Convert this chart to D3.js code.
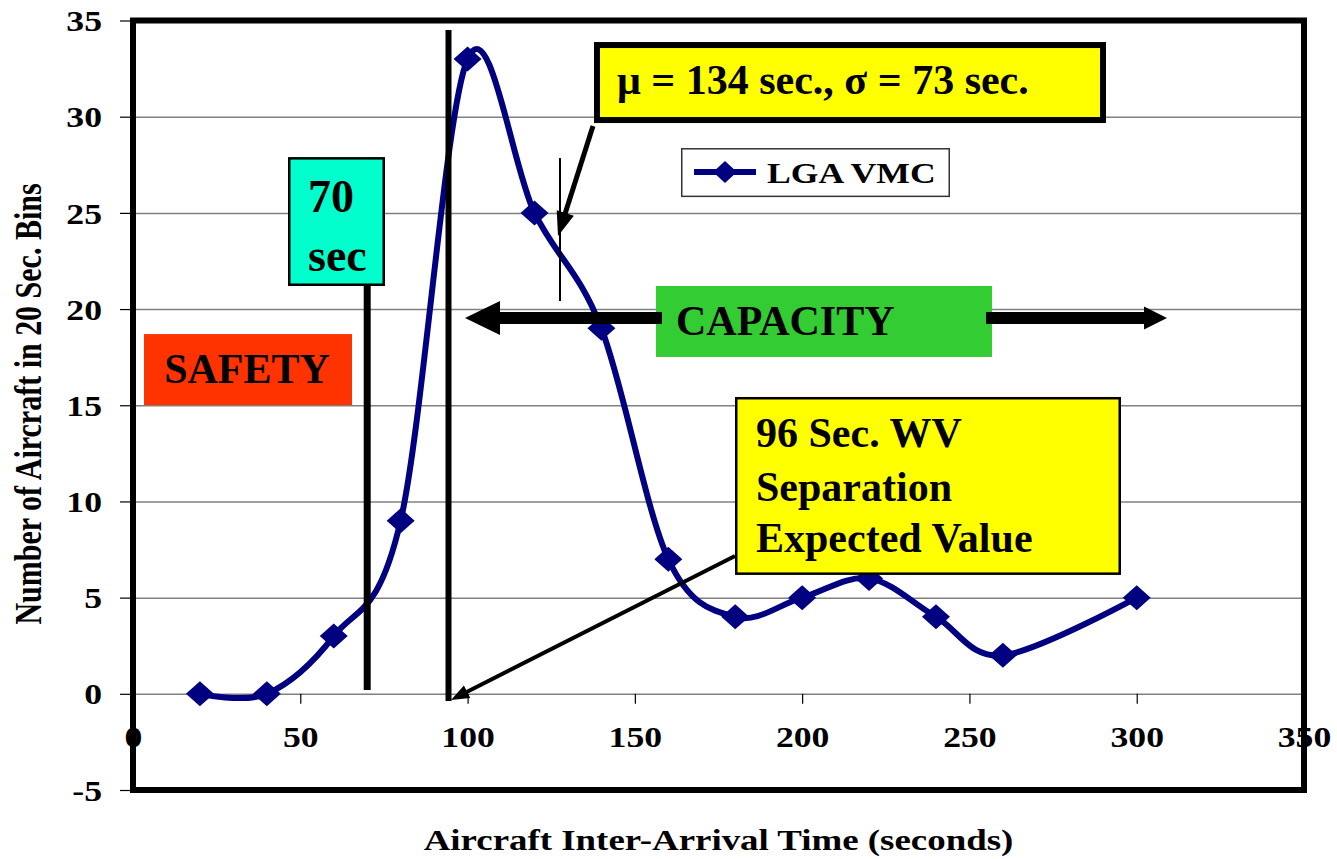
<!DOCTYPE html>
<html>
<head>
<meta charset="utf-8">
<script src="https://cdn.jsdelivr.net/npm/d3@7"></script>
<style>
  body { margin: 0; background: #fff; }
  text { font-family: "Liberation Serif", "Times New Roman", serif; font-weight: bold; }
</style>
</head>
<body>
<script>
// values
var binTimes = [20, 40, 60, 80, 100, 120, 140, 160, 180, 200, 220, 240, 260, 300];
var aircraftCounts = [0, 0, 3, 9, 33, 25, 19, 7, 4, 5, 6, 4, 2, 5];
var seriesName = "LGA VMC";
var xTicks = [0, 50, 100, 150, 200, 250, 300, 350];
var yTicks = [-5, 0, 5, 10, 15, 20, 25, 30, 35];

var svgWidth = 1337;
var svgHeight = 859;
// excel text in the picture is a bit wide
var stretch = 1.23;

var svg = d3.select("body")
  .append("svg")
  .attr("width", svgWidth)
  .attr("height", svgHeight);

var x = d3.scaleLinear().domain([0, 350]).range([133, 1304]);
var y = d3.scaleLinear().domain([-5, 35]).range([790, 20.5]);

// gridlines
svg.append("g")
  .attr("transform", `translate(${x(0)},0)`)
  .call(d3.axisLeft(y).tickValues(yTicks).tickSize(-(x(350) - x(0))).tickFormat(""))
  .call(g => g.select(".domain").remove())
  .selectAll("line")
  .attr("stroke", "#808080")
  .attr("stroke-width", 1.5);

// y axis
var yAxis = svg.append("g")
  .attr("transform", `translate(${x(0)},0)`)
  .call(d3.axisLeft(y).tickValues(yTicks).tickSize(13).tickFormat(d => String(d)));
yAxis.select(".domain").remove();
yAxis.selectAll("line").attr("stroke", "#000").attr("stroke-width", 1.2);
yAxis.selectAll("text")
  .attr("x", -31 / stretch)
  .attr("dy", "0.35em")
  .attr("transform", `scale(${stretch},1)`)
  .attr("font-size", 29)
  .attr("fill", "#000");

// x axis sits on y = 0
var xAxis = svg.append("g")
  .attr("transform", `translate(0,${y(0)})`)
  .call(d3.axisBottom(x).tickValues(xTicks).tickSize(10).tickFormat(d => String(d)));
xAxis.select(".domain").remove();
xAxis.selectAll("line").attr("stroke", "#000").attr("stroke-width", 1.2);
xAxis.selectAll("text")
  .attr("y", 53)
  .attr("dy", 0)
  .attr("transform", `scale(${stretch},1)`)
  .attr("font-size", 29)
  .attr("fill", "#000");

// plot frame
svg.append("rect")
  .attr("x", x(0))
  .attr("y", y(35))
  .attr("width", x(350) - x(0))
  .attr("height", y(-5) - y(35))
  .attr("fill", "none")
  .attr("stroke", "#000")
  .attr("stroke-width", 6);

// axis titles
svg.append("text")
  .attr("transform", `translate(28,404) rotate(-90) scale(1,${stretch})`)
  .attr("text-anchor", "middle")
  .attr("dy", "0.35em")
  .attr("font-size", 30)
  .text("Number of Aircraft in 20 Sec. Bins");

svg.append("text")
  .attr("transform", `translate(${(x(0) + x(350)) / 2},850) scale(${stretch},1)`)
  .attr("text-anchor", "middle")
  .attr("font-size", 30)
  .text("Aircraft Inter-Arrival Time (seconds)");

// helpers for the call-outs (positions given in chart units)
function box(x0, x1, yTop, yBot, fill, sw) {
  sw = sw || 0;
  return svg.append("rect")
    .attr("x", x(x0) + sw / 2)
    .attr("y", y(yTop) + sw / 2)
    .attr("width", x(x1) - x(x0) - sw)
    .attr("height", y(yBot) - y(yTop) - sw)
    .attr("fill", fill)
    .attr("stroke", sw ? "#000" : "none")
    .attr("stroke-width", sw);
}

function label(xv, yv, size, str) {
  return svg.append("text")
    .attr("x", x(xv))
    .attr("y", y(yv))
    .attr("font-size", size)
    .text(str);
}

function vline(xv, y0, y1, w) {
  svg.append("line")
    .attr("x1", x(xv)).attr("x2", x(xv))
    .attr("y1", y(y0)).attr("y2", y(y1))
    .attr("stroke", "#000")
    .attr("stroke-width", w);
}

function arrow(x1, y1, x2, y2, w, headLen, headHalf) {
  var px1 = x(x1), py1 = y(y1), px2 = x(x2), py2 = y(y2);
  var dx = px2 - px1, dy = py2 - py1;
  var len = Math.hypot(dx, dy);
  var ux = dx / len, uy = dy / len;
  var bx = px2 - ux * headLen, by = py2 - uy * headLen;
  svg.append("line")
    .attr("x1", px1).attr("y1", py1)
    .attr("x2", bx + ux).attr("y2", by + uy)
    .attr("stroke", "#000")
    .attr("stroke-width", w);
  svg.append("path")
    .attr("d", `M${px2},${py2}L${bx - uy * headHalf},${by + ux * headHalf}L${bx + uy * headHalf},${by - ux * headHalf}Z`)
    .attr("fill", "#000");
}

// the series
var points = binTimes.map((t, i) => ({t: t, n: aircraftCounts[i]}));

var line = d3.line()
  .x(d => x(d.t))
  .y(d => y(d.n))
  .curve(d3.curveCardinal.tension(0));

svg.append("path")
  .datum(points)
  .attr("d", line)
  .attr("fill", "none")
  .attr("stroke", "#000080")
  .attr("stroke-width", 6);

var diamond = "M0,-12.5L14,0L0,12.5L-14,0Z";
svg.selectAll(".marker")
  .data(points)
  .enter()
  .append("path")
  .attr("class", "marker")
  .attr("d", diamond)
  .attr("transform", d => `translate(${x(d.t)},${y(d.n)})`)
  .attr("fill", "#000080");

// vertical markers
vline(70, 21.2, 0.2, 7);
vline(94.3, 34.51, -0.37, 6);
vline(127.62, 27.85, 20.42, 2);

// SAFETY
box(3.29, 65.46, 18.70, 15.01, "#FF3300");
label(34.07, 16.16, 42, "SAFETY").attr("text-anchor", "middle");

// 70 sec
box(46.33, 75.32, 27.90, 21.20, "#00FFCC", 2.5);
label(52.31, 25.05, 46, "70");
label(52.31, 21.98, 46, "sec");

// CAPACITY
box(156.32, 256.75, 21.20, 17.51, "#33CC33");
label(162.3, 18.65, 42, "CAPACITY");
arrow(158.11, 19.54, 99.23, 19.54, 12, 35, 17);
arrow(254.95, 19.54, 309.05, 19.54, 12, 23, 11.5);

// mean / sd
arrow(137.49, 29.52, 127.03, 23.80, 5, 24, 9);
box(137.79, 290.82, 33.88, 29.67, "#FFFF00", 6);
label(144.66, 31.18, 42, "\u03bc = 134 sec., \u03c3 = 73 sec.");

// legend
box(163.79, 244.19, 28.37, 25.82, "#fff", 1.5).attr("stroke", "#333");
svg.append("line")
  .attr("x1", x(167.68)).attr("x2", x(186.21))
  .attr("y1", y(27.12)).attr("y2", y(27.12))
  .attr("stroke", "#000080")
  .attr("stroke-width", 6);
svg.append("path")
  .attr("d", "M0,-11L12,0L0,11L-12,0Z")
  .attr("transform", `translate(${x(176.94)},${y(27.12)})`)
  .attr("fill", "#000080");
svg.append("text")
  .attr("transform", `translate(${x(189.5)},${y(26.55)}) scale(${stretch},1)`)
  .attr("font-size", 29)
  .text(seriesName);

// 96 sec expected value
arrow(179.93, 7.16, 95.05, -0.32, 4, 18, 7);
box(179.93, 295.3, 15.43, 6.18, "#FFFF00", 2.5);
label(186.21, 12.83, 42, "96 Sec. WV");
label(186.21, 10.02, 42, "Separation");
label(186.21, 7.37, 42, "Expected Value");
</script>
</body>
</html>
